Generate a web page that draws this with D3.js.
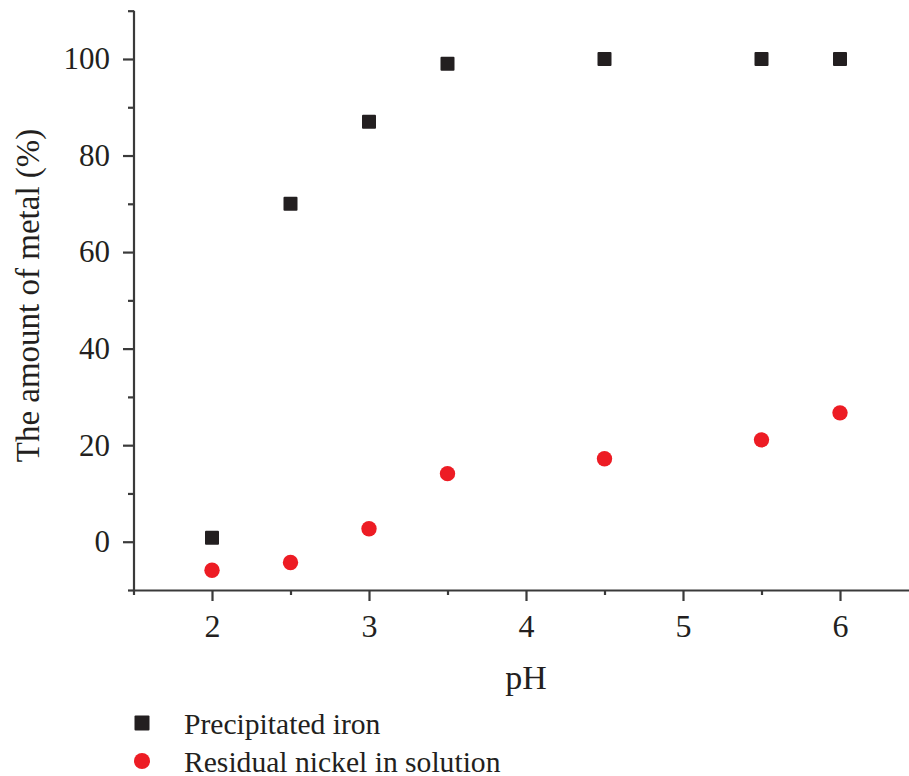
<!DOCTYPE html>
<html><head><meta charset="utf-8">
<script src="https://cdn.jsdelivr.net/npm/d3@7"></script>
<style>body{margin:0;background:#fff}svg{display:block}text{font-family:"Liberation Serif","Times New Roman",serif;fill:#231f20}</style>
</head><body><svg id="c" width="909" height="776"></svg>
<script>
const pH = [2, 2.5, 3, 3.5, 4.5, 5.5, 6];
const iron = [0.8, 70, 87, 99, 100, 100, 100];
const nickel = [-5.9, -4.3, 2.7, 14.1, 17.2, 21.1, 26.7];
const xTicks = [2, 3, 4, 5, 6];
const xMinor = [1.5, 2.5, 3.5, 4.5, 5.5, 6.5];
const yTicks = [0, 20, 40, 60, 80, 100];
const yMinor = [-10, 10, 30, 50, 70, 90, 110];
const seriesNames = ["Precipitated iron", "Residual nickel in solution"];
const colors = ["#231f20", "#ed1c24"];

const svg = d3.select("#c");
const x = d3.scaleLinear().domain([1.5, 6.5]).range([133.5, 918.5]);
const y = d3.scaleLinear().domain([-10, 110]).range([590, 10.7]);
const axisColor = "#3a3a3a";

function style(g, fs) {
  g.select(".domain").attr("stroke", axisColor).attr("stroke-width", 2.2);
  g.selectAll(".tick line").attr("stroke", axisColor).attr("stroke-width", 2.2);
  g.selectAll(".tick text").style("font-size", fs + "px").attr("fill", "#231f20");
}
// y axis
const gyMinor = svg.append("g").attr("transform", "translate(134,0)")
  .call(d3.axisLeft(y).tickValues(yMinor).tickSize(6).tickSizeOuter(0).tickFormat(""));
style(gyMinor, 31);
gyMinor.select(".domain").attr("d", `M0,${y(110)}V${y(-10)}`);
const gy = svg.append("g").attr("transform", "translate(134,0)")
  .call(d3.axisLeft(y).tickValues(yTicks).tickSize(11).tickPadding(13).tickSizeOuter(0));
style(gy, 31);
gy.select(".domain").remove();
// x axis
const gxMinor = svg.append("g").attr("transform", "translate(0,590)")
  .call(d3.axisBottom(x).tickValues(xMinor).tickSize(5).tickSizeOuter(0).tickFormat(""));
style(gxMinor, 31);
const gx = svg.append("g").attr("transform", "translate(0,590)")
  .call(d3.axisBottom(x).tickValues(xTicks).tickSize(11).tickPadding(13).tickSizeOuter(0).tickFormat(d3.format("d")));
style(gx, 32);
gx.select(".domain").remove();

// titles
svg.append("text").attr("x", x(4)).attr("y", 689).attr("text-anchor", "middle")
  .style("font-size", "34px").text("pH");
svg.append("text").attr("transform", `translate(39,${(133 + 458) / 2}) rotate(-90)`)
  .attr("text-anchor", "middle").style("font-size", "33px").text("The amount of metal (%)");

// points
const sq = 14;
svg.append("g").selectAll("rect").data(pH.map((p, i) => [p, iron[i]])).join("rect")
  .attr("x", d => x(d[0]) - sq / 2).attr("y", d => y(d[1]) - sq / 2)
  .attr("width", sq).attr("height", sq).attr("rx", 1).attr("fill", colors[0]);
svg.append("g").selectAll("circle").data(pH.map((p, i) => [p, nickel[i]])).join("circle")
  .attr("cx", d => x(d[0])).attr("cy", d => y(d[1])).attr("r", 7.7).attr("fill", colors[1]);

// legend
svg.append("rect").attr("x", 142 - 7.5).attr("y", 723 - 7.5).attr("width", 15).attr("height", 15).attr("rx", 1).attr("fill", colors[0]);
svg.append("circle").attr("cx", 142).attr("cy", 761).attr("r", 8).attr("fill", colors[1]);
svg.append("text").attr("x", 184).attr("y", 734).style("font-size", "29.6px").text(seriesNames[0]);
svg.append("text").attr("x", 184).attr("y", 771.5).style("font-size", "29.6px").text(seriesNames[1]);
</script></body></html>
